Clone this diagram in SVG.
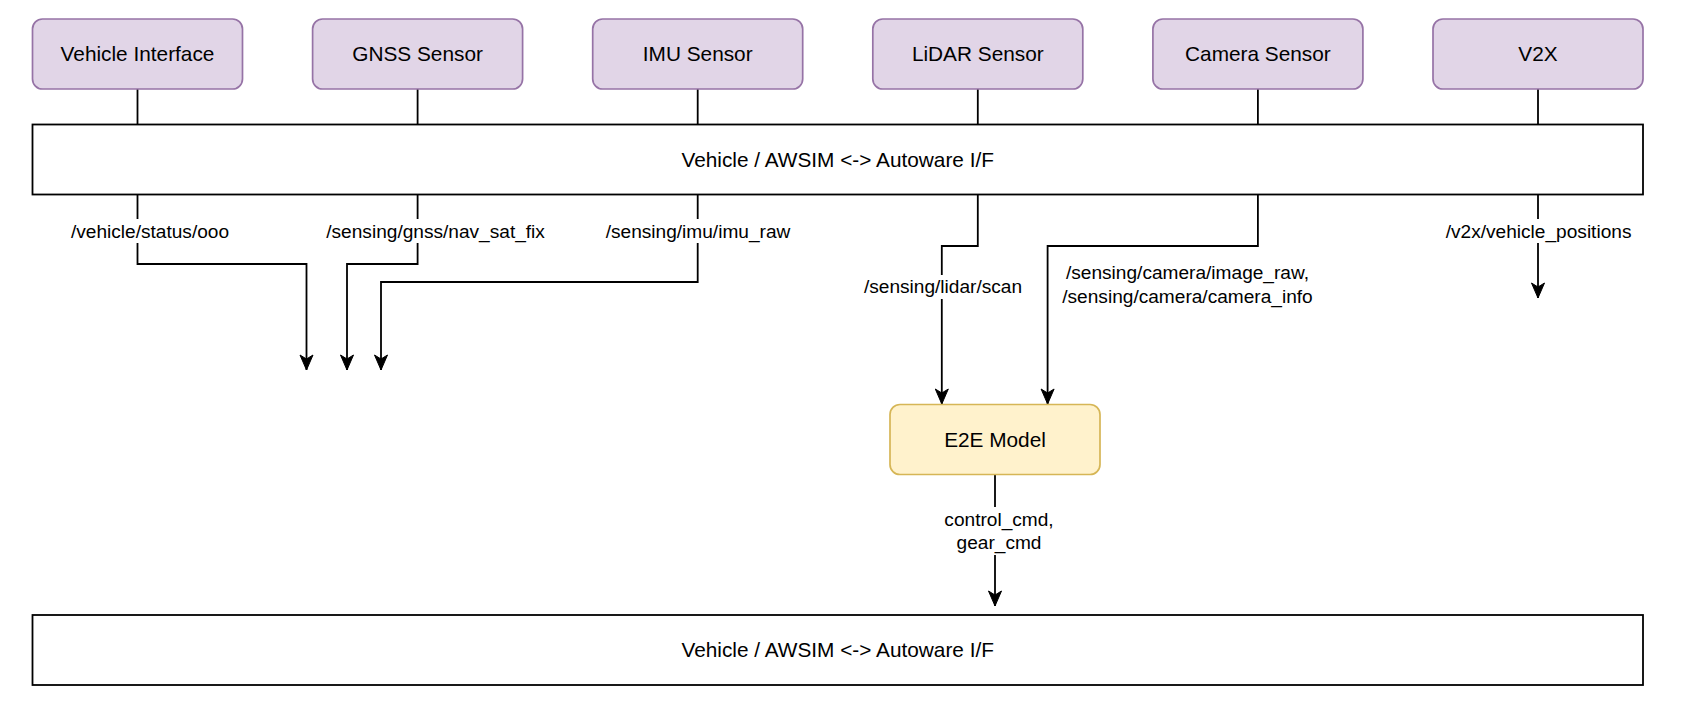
<svg xmlns="http://www.w3.org/2000/svg" width="1683" height="721" viewBox="0 0 1683 721">
<style>
.sensor{fill:#e1d5e7;stroke:#9673a6;stroke-width:1.7}
.model{fill:#fff2cc;stroke:#d6b656;stroke-width:1.7}
.iface{fill:#ffffff;stroke:#000000;stroke-width:1.8}
.nt{font-family:"Liberation Sans",Arial,sans-serif;font-size:20.8px;fill:#000;text-anchor:middle}
.et{font-family:"Liberation Sans",Arial,sans-serif;font-size:19.1px;fill:#000;text-anchor:middle}
.edge{fill:none;stroke:#000;stroke-width:1.8}
.bg{fill:#ffffff;stroke:none}
</style>
<defs>
<marker id="arr" markerUnits="userSpaceOnUse" markerWidth="18" markerHeight="16" viewBox="-16 -8 18 16" refX="0" refY="0" orient="auto">
<path d="M-15,-6.5 L0,0 L-15,6.5 L-11,0 Z" fill="#000" stroke="#000" stroke-width="1"/>
</marker>
</defs>
<rect width="1683" height="721" fill="#ffffff"/>

<g id="connectors">
<path class="edge" d="M137.5,89 V124.5"/>
<path class="edge" d="M417.6,89 V124.5"/>
<path class="edge" d="M697.7,89 V124.5"/>
<path class="edge" d="M977.8,89 V124.5"/>
<path class="edge" d="M1257.9,89 V124.5"/>
<path class="edge" d="M1538,89 V124.5"/>
<path class="edge" d="M137.5,194.5 V264 H306.5 V370" marker-end="url(#arr)"/>
<path class="edge" d="M417.6,194.5 V264 H347 V370" marker-end="url(#arr)"/>
<path class="edge" d="M697.7,194.5 V282 H381 V370" marker-end="url(#arr)"/>
<path class="edge" d="M977.8,194.5 V246 H941.8 V404" marker-end="url(#arr)"/>
<path class="edge" d="M1257.9,194.5 V246 H1047.6 V404" marker-end="url(#arr)"/>
<path class="edge" d="M1538,194.5 V298" marker-end="url(#arr)"/>
<path class="edge" d="M995,474.5 V606" marker-end="url(#arr)"/>
<rect class="bg" x="70" y="219" width="160" height="24"/>
<text class="et" x="150" y="237.6">/vehicle/status/ooo</text>
<rect class="bg" x="325" y="219" width="222" height="24"/>
<text class="et" x="435.6" y="237.6">/sensing/gnss/nav_sat_fix</text>
<rect class="bg" x="604" y="219" width="188" height="24"/>
<text class="et" x="698" y="237.6">/sensing/imu/imu_raw</text>
<rect class="bg" x="862" y="275" width="162" height="24"/>
<text class="et" x="943" y="293.3">/sensing/lidar/scan</text>
<text class="et" x="1187.5" y="279.3">/sensing/camera/image_raw,</text>
<text class="et" x="1187.5" y="302.9">/sensing/camera/camera_info</text>
<rect class="bg" x="1444" y="219" width="190" height="24"/>
<text class="et" x="1538.6" y="237.6">/v2x/vehicle_positions</text>
<rect class="bg" x="942" y="507" width="114" height="48"/>
<text class="et" x="999" y="526">control_cmd,</text>
<text class="et" x="999" y="549">gear_cmd</text>
</g>

<g id="vehicle-interface">
<rect class="sensor" x="32.5" y="19" width="210" height="70" rx="10"/>
<text class="nt" x="137.5" y="61.2">Vehicle Interface</text>
</g>
<g id="gnss-sensor">
<rect class="sensor" x="312.6" y="19" width="210" height="70" rx="10"/>
<text class="nt" x="417.6" y="61.2">GNSS Sensor</text>
</g>
<g id="imu-sensor">
<rect class="sensor" x="592.7" y="19" width="210" height="70" rx="10"/>
<text class="nt" x="697.7" y="61.2">IMU Sensor</text>
</g>
<g id="lidar-sensor">
<rect class="sensor" x="872.8" y="19" width="210" height="70" rx="10"/>
<text class="nt" x="977.8" y="61.2">LiDAR Sensor</text>
</g>
<g id="camera-sensor">
<rect class="sensor" x="1152.9" y="19" width="210" height="70" rx="10"/>
<text class="nt" x="1257.9" y="61.2">Camera Sensor</text>
</g>
<g id="v2x">
<rect class="sensor" x="1433" y="19" width="210" height="70" rx="10"/>
<text class="nt" x="1538" y="61.2">V2X</text>
</g>
<g id="iface-top">
<rect class="iface" x="32.5" y="124.5" width="1610.5" height="70"/>
<text class="nt" x="837.7" y="166.7">Vehicle / AWSIM &lt;-&gt; Autoware I/F</text>
</g>
<g id="e2e-model">
<rect class="model" x="890" y="404.5" width="210" height="70" rx="10"/>
<text class="nt" x="995" y="446.7">E2E Model</text>
</g>
<g id="iface-bottom">
<rect class="iface" x="32.5" y="615" width="1610.5" height="70"/>
<text class="nt" x="837.7" y="657.2">Vehicle / AWSIM &lt;-&gt; Autoware I/F</text>
</g>
</svg>
